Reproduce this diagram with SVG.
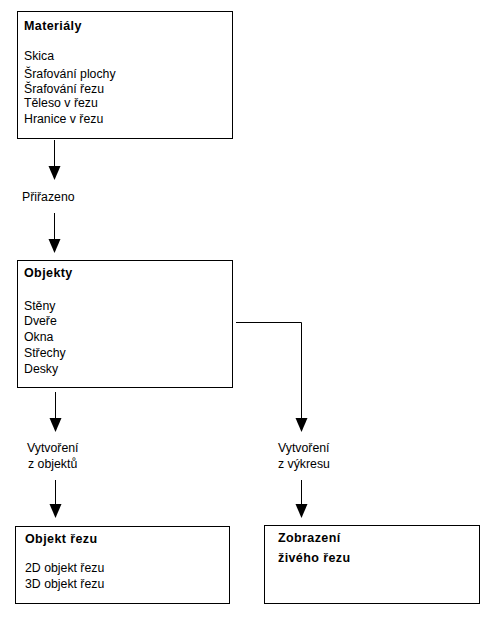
<svg xmlns="http://www.w3.org/2000/svg" width="492" height="617" viewBox="0 0 492 617">
<style>
.box{fill:#fff;stroke:#000;stroke-width:1}
.t{font-family:"Liberation Sans",Arial,sans-serif;font-size:12.3px;fill:#000}
.b{font-weight:bold;font-size:12.5px;letter-spacing:0.4px}
.ln{fill:none;stroke:#000;stroke-width:1}
.ah{fill:#000}
</style>
<rect width="492" height="617" fill="#fff"/>
<g id="connectors">
<line class="ln" x1="54.5" y1="140" x2="54.5" y2="170"/>
<polygon class="ah" points="48.5,166 60.5,166 54.5,180"/>
<line class="ln" x1="54.5" y1="213" x2="54.5" y2="243"/>
<polygon class="ah" points="48.5,239 60.5,239 54.5,253"/>
<line class="ln" x1="55.5" y1="392" x2="55.5" y2="422"/>
<polygon class="ah" points="49.5,418 61.5,418 55.5,432"/>
<line class="ln" x1="55.5" y1="480" x2="55.5" y2="508"/>
<polygon class="ah" points="49.5,504 61.5,504 55.5,518"/>
<polyline class="ln" points="236,322.5 301.5,322.5 301.5,422"/>
<polygon class="ah" points="295.5,418 307.5,418 301.5,432"/>
<line class="ln" x1="301.5" y1="480" x2="301.5" y2="508"/>
<polygon class="ah" points="295.5,504 307.5,504 301.5,518"/>
<text class="t" x="22" y="201">Přiřazeno</text>
<text class="t" x="27" y="452">Vytvoření</text>
<text class="t" x="28" y="468">z objektů</text>
<text class="t" x="278" y="452">Vytvoření</text>
<text class="t" x="278" y="468">z výkresu</text>
</g>
<g id="materialy">
<rect class="box" x="17.5" y="11.5" width="215" height="127"/>
<text class="t b" x="24" y="30">Materiály</text>
<text class="t" x="24" y="60">Skica</text>
<text class="t" x="24" y="78">Šrafování plochy</text>
<text class="t" x="24" y="93">Šrafování řezu</text>
<text class="t" x="24" y="107">Těleso v řezu</text>
<text class="t" x="24" y="123">Hranice v řezu</text>
</g>
<g id="objekty">
<rect class="box" x="17.5" y="260.5" width="215" height="127"/>
<text class="t b" x="24" y="277">Objekty</text>
<text class="t" x="24" y="310">Stěny</text>
<text class="t" x="24" y="325">Dveře</text>
<text class="t" x="24" y="341">Okna</text>
<text class="t" x="24" y="357">Střechy</text>
<text class="t" x="24" y="373">Desky</text>
</g>
<g id="objekt-rezu">
<rect class="box" x="15.5" y="526.5" width="214" height="77"/>
<text class="t b" x="25" y="543">Objekt řezu</text>
<text class="t" x="25" y="572">2D objekt řezu</text>
<text class="t" x="25" y="588">3D objekt řezu</text>
</g>
<g id="zobrazeni">
<rect class="box" x="264.5" y="525.5" width="215" height="78"/>
<text class="t b" x="278" y="542">Zobrazení</text>
<text class="t b" x="278" y="562">živého řezu</text>
</g>
</svg>
